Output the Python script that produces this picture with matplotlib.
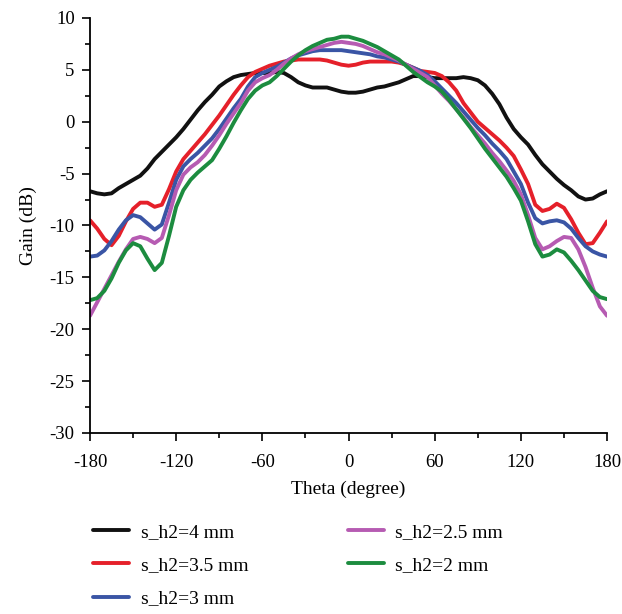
import numpy as np
import matplotlib
matplotlib.use("Agg")
import matplotlib.pyplot as plt
from matplotlib.ticker import MultipleLocator

plt.rcParams['font.family'] = ['Liberation Serif', 'DejaVu Serif']
plt.rcParams['axes.unicode_minus'] = False

# angle grid (degree)
theta = np.arange(-180, 181, 5)

# gain (dB), one value every 5 degree
g_4mm = [-6.7, -6.9, -7.0, -6.9, -6.4, -6.0, -5.6, -5.2, -4.5, -3.6, -2.9, -2.2, -1.5,
         -0.7, 0.2, 1.1, 1.9, 2.6, 3.4, 3.9, 4.3, 4.5, 4.6, 4.7, 4.7, 4.7, 4.8, 4.7,
         4.3, 3.8, 3.5, 3.3, 3.3, 3.3, 3.1, 2.9, 2.8, 2.8, 2.9, 3.1, 3.3, 3.4, 3.6,
         3.8, 4.1, 4.4, 4.4, 4.3, 4.2, 4.2, 4.2, 4.2, 4.3, 4.2, 4.0, 3.5, 2.7, 1.7,
         0.4, -0.7, -1.5, -2.2, -3.2, -4.1, -4.8, -5.5, -6.1, -6.6, -7.2, -7.5, -7.4,
         -7.0, -6.7]
g_35mm = [-9.5, -10.3, -11.3, -11.9, -11.0, -9.6, -8.4, -7.8, -7.8, -8.2, -8.0, -6.5,
          -4.8, -3.6, -2.8, -2.0, -1.2, -0.3, 0.6, 1.6, 2.6, 3.5, 4.3, 4.8, 5.1, 5.4,
          5.6, 5.8, 5.9, 6.0, 6.0, 6.0, 6.0, 5.9, 5.7, 5.5, 5.4, 5.5, 5.7, 5.8, 5.8,
          5.8, 5.8, 5.7, 5.5, 5.2, 4.9, 4.8, 4.7, 4.4, 3.8, 3.0, 1.8, 0.9, 0.0, -0.6,
          -1.2, -1.8, -2.5, -3.3, -4.6, -6.0, -8.0, -8.6, -8.4, -7.9, -8.3, -9.4,
          -10.7, -11.8, -11.7, -10.7, -9.6]
g_3mm = [-13.0, -12.9, -12.4, -11.5, -10.4, -9.5, -9.0, -9.2, -9.8, -10.4, -9.9, -7.8,
         -5.6, -4.3, -3.6, -3.0, -2.3, -1.6, -0.7, 0.3, 1.3, 2.2, 3.4, 4.3, 4.7, 5.0,
         5.3, 5.7, 6.1, 6.4, 6.6, 6.8, 6.9, 6.9, 6.9, 6.9, 6.8, 6.7, 6.6, 6.5, 6.3,
         6.2, 6.0, 5.8, 5.5, 5.2, 4.9, 4.5, 3.9, 3.2, 2.5, 1.8, 1.0, 0.2, -0.6, -1.3,
         -2.1, -2.8, -3.6, -4.8, -6.0, -7.8, -9.3, -9.8, -9.6, -9.5, -9.7, -10.3,
         -11.2, -12.0, -12.5, -12.8, -13.0]
g_25mm = [-18.7, -17.4, -16.1, -14.8, -13.5, -12.3, -11.3, -11.1, -11.3, -11.7, -11.2,
          -9.0, -6.6, -5.1, -4.4, -3.9, -3.2, -2.3, -1.3, -0.2, 0.8, 1.8, 3.0, 3.8,
          4.2, 4.5, 5.0, 5.6, 6.1, 6.5, 6.8, 7.0, 7.2, 7.4, 7.6, 7.7, 7.6, 7.5, 7.3,
          7.0, 6.7, 6.5, 6.2, 5.9, 5.5, 5.1, 4.7, 4.3, 3.5, 2.7, 2.0, 1.2, 0.4, -0.5,
          -1.3, -2.1, -3.0, -3.8, -4.7, -5.7, -7.0, -9.0, -11.2, -12.3, -12.0, -11.5,
          -11.1, -11.2, -12.3, -14.0, -16.0, -17.8, -18.7]
g_2mm = [-17.2, -17.0, -16.3, -15.1, -13.6, -12.4, -11.7, -12.0, -13.2, -14.3, -13.6,
         -11.0, -8.2, -6.6, -5.6, -4.9, -4.3, -3.7, -2.6, -1.4, -0.1, 1.1, 2.2, 3.0,
         3.5, 3.8, 4.4, 5.1, 5.8, 6.4, 6.9, 7.3, 7.6, 7.9, 8.0, 8.2, 8.2, 8.0, 7.8,
         7.5, 7.2, 6.8, 6.4, 6.0, 5.4, 4.8, 4.3, 3.8, 3.4, 2.9, 2.1, 1.2, 0.3, -0.6,
         -1.6, -2.6, -3.5, -4.4, -5.3, -6.4, -7.6, -9.6, -11.8, -13.0, -12.8, -12.3,
         -12.6, -13.4, -14.3, -15.3, -16.3, -16.9, -17.1]

labels = ['s_h2=4 mm', 's_h2=3.5 mm', 's_h2=3 mm', 's_h2=2.5 mm', 's_h2=2 mm']
colores = ['#111111', '#e5202a', '#3a55a5', '#b65bb2', '#1c8c3f']
series = [g_4mm, g_35mm, g_3mm, g_25mm, g_2mm]

fig = plt.figure(figsize=(6.22, 6.14), dpi=100)
ax = fig.add_axes([0.1447, 0.2948, 0.8313, 0.6759])

for g, c, lab in zip(series, colores, labels):
    ax.plot(theta, g, color=c, lw=2.8, label=lab, solid_capstyle='round')

ax.set_xlim(-180, 180)
ax.set_ylim(-30, 10)
ax.xaxis.set_major_locator(MultipleLocator(60))
ax.xaxis.set_minor_locator(MultipleLocator(30))
ax.yaxis.set_major_locator(MultipleLocator(5))
ax.yaxis.set_minor_locator(MultipleLocator(2.5))
ax.tick_params(which='major', direction='out', length=6, width=1.2, labelsize=13.5)
ax.tick_params(which='minor', direction='out', length=3.5, width=1.2)
ax.tick_params(axis='x', which='major', pad=9)
ax.tick_params(axis='y', which='major', pad=5)
for s in ['top', 'right']:
    ax.spines[s].set_visible(False)
for s in ['left', 'bottom']:
    ax.spines[s].set_linewidth(1.3)

ax.set_xlabel('Theta (degree)', fontsize=14, labelpad=7)
ax.set_ylabel('Gain (dB)', fontsize=14, labelpad=9)

fig.legend(loc='upper left', bbox_to_anchor=(0.122, 0.176), ncol=2, frameon=False,
           fontsize=14, handlelength=1.85, handletextpad=0.6, columnspacing=5.1,
           labelspacing=0.8)

fig.savefig('out.png', dpi=100)
